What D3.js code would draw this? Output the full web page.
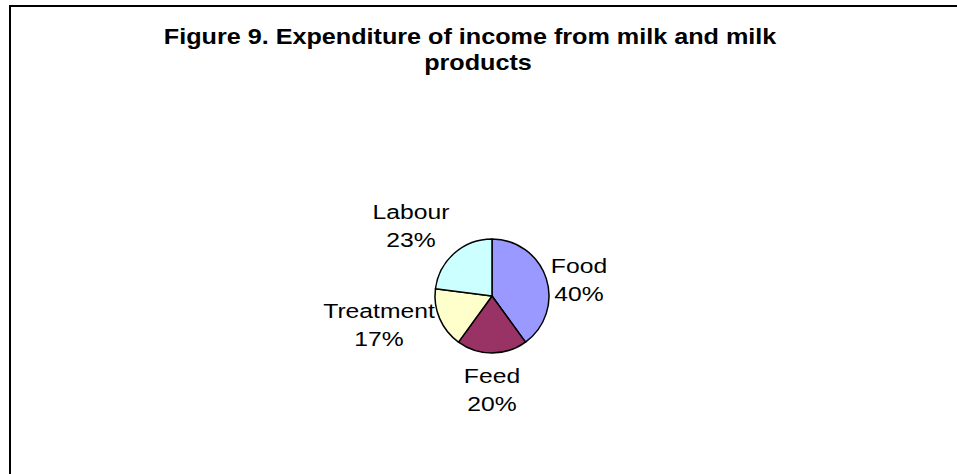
<!DOCTYPE html>
<html>
<head>
<meta charset="utf-8">
<script src="https://cdn.jsdelivr.net/npm/d3@7"></script>
<style>
  html, body { margin: 0; padding: 0; background: #fff; }
  svg { display: block; }
  text { font-family: Arial, "Liberation Sans", sans-serif; fill: #000; }
</style>
</head>
<body>
<svg id="chart" width="957" height="474"></svg>
<script>
// Expenditure shares
const categories = ["Food", "Feed", "Treatment", "Labour"];
const shares = [40, 20, 17, 23];
const colors = ["#9999FF", "#993366", "#FFFFCC", "#CCFFFF"];
const titleLines = ["Figure 9. Expenditure of income from milk and milk", "products"];

const svg = d3.select("#chart");
const stretch = 1.2; // label text is set slightly wide

// Chart frame (runs off the right and bottom edges)
svg.append("rect")
  .attr("x", 10).attr("y", 6)
  .attr("width", 960).attr("height", 480)
  .attr("fill", "#fff").attr("stroke", "#000").attr("stroke-width", 2);

// Title
const titleX = [470, 478];
svg.append("g").selectAll("text")
  .data(titleLines)
  .join("text")
  .attr("transform", (d, i) => `translate(${titleX[i]},${44 + i * 26}) scale(1.145,1)`)
  .attr("text-anchor", "middle")
  .attr("font-size", 22).attr("font-weight", "bold")
  .text(d => d);

const cx = 492, cy = 296, r = 57;
const data = categories.map((c, i) => ({ name: c, value: shares[i], color: colors[i] }));
const pie = d3.pie().value(d => d.value).sort(null);
const arcs = pie(data);
const arc = d3.arc().innerRadius(0).outerRadius(r);

const g = svg.append("g").attr("transform", `translate(${cx},${cy})`);
g.selectAll("path")
  .data(arcs)
  .join("path")
  .attr("d", arc)
  .attr("fill", d => d.data.color)
  .attr("stroke", "#000").attr("stroke-width", 1.5)
  .attr("stroke-linejoin", "round");

// Label positions (name baseline) relative to the pie centre
const labelOffsets = {
  Food: [87, -23],
  Feed: [0, 87],
  Treatment: [-113, 22],
  Labour: [-81, -77]
};

const labels = g.selectAll("g.lbl")
  .data(arcs)
  .join("g")
  .attr("class", "lbl")
  .attr("transform", d => `translate(${labelOffsets[d.data.name][0]},${labelOffsets[d.data.name][1]}) scale(${stretch * 0.98},1)`);

labels.append("text")
  .attr("text-anchor", "middle")
  .attr("font-size", 21)
  .attr("y", 0)
  .text(d => d.data.name);
labels.append("text")
  .attr("text-anchor", "middle")
  .attr("font-size", 21)
  .attr("y", 28)
  .text(d => d.data.value + "%");
</script>
</body>
</html>
